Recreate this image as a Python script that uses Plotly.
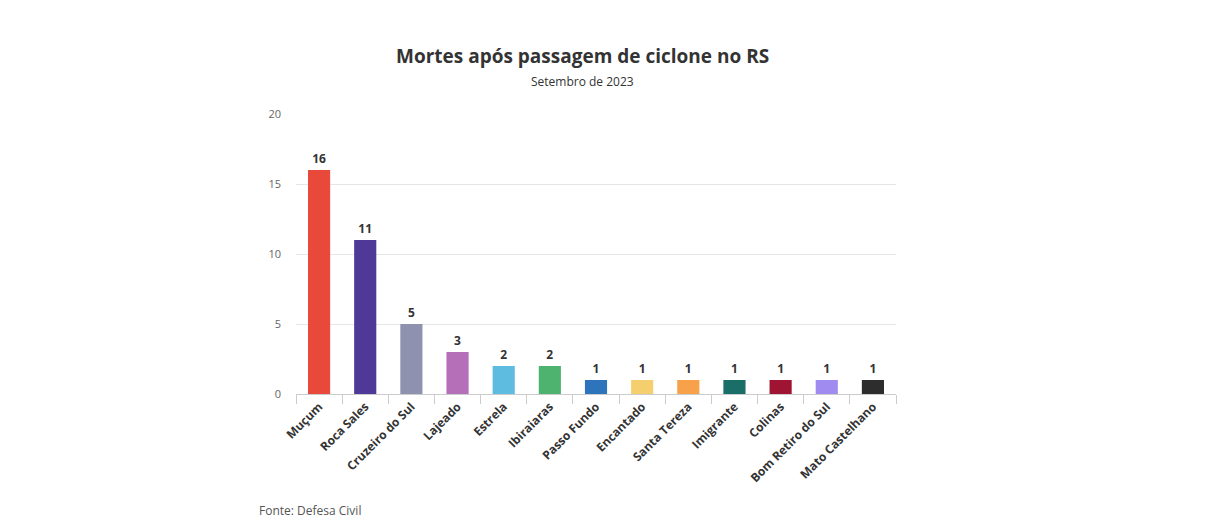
import plotly.graph_objects as go

cidades = ["Muçum", "Roca Sales", "Cruzeiro do Sul", "Lajeado", "Estrela", "Ibiraiaras",
           "Passo Fundo", "Encantado", "Santa Tereza", "Imigrante", "Colinas",
           "Bom Retiro do Sul", "Mato Castelhano"]
mortes = [16, 11, 5, 3, 2, 2, 1, 1, 1, 1, 1, 1, 1]
cores = ["#E8493B", "#4E3A96", "#8F92AE", "#B56FB9", "#5DBCE0", "#4DB36E", "#2E74BC",
         "#F5CF6E", "#F7A24B", "#1A6E68", "#9E1432", "#A08CF0", "#2D2D2D"]
y_ticks = [0, 5, 10, 15, 20]

fig = go.Figure(go.Bar(
    x=cidades, y=mortes, marker=dict(color=cores, line=dict(width=0)),
    text=[str(v) for v in mortes], textposition="outside",
    textfont=dict(family="Open Sans", size=12, color="#333333", weight="bold"),
    cliponaxis=False,
))

W, H = 1224, 528
pl, pr, pt, pb = 296, 328, 114, 134
pw, ph = W - pl - pr, H - pt - pb

def px2paper(x, y):
    return (x - pl) / pw, (H - pb - y) / ph

anns = []
for txt, x, y, size, color, anchor in [
    ("<b>Mortes após passagem de ciclone no RS</b>", 582, 56, 19, "#333333", "center"),
    ("Setembro de 2023", 582, 82, 12, "#333333", "center"),
    ("Fonte: Defesa Civil", 257, 510, 12, "#555555", "left"),
]:
    ax, ay = px2paper(x, y)
    anns.append(dict(text=txt, x=ax, y=ay, xref="paper", yref="paper", showarrow=False,
                     xanchor=anchor, yanchor="middle",
                     font=dict(size=size, color=color, family="Open Sans")))

fig.update_layout(
    width=W, height=H,
    margin=dict(l=pl, r=pr, t=pt, b=pb),
    paper_bgcolor="white", plot_bgcolor="white",
    bargap=0.52, showlegend=False,
    font=dict(family="Open Sans", color="#333333"),
    annotations=anns,
)

fig.update_xaxes(
    showgrid=False, showline=True, linecolor="#CCCCCC", linewidth=1,
    ticks="outside", tickson="boundaries", ticklen=9, tickcolor="#CCCCCC",
    tickangle=-45,
    tickfont=dict(family="Open Sans", size=12, color="#333333", weight="bold"),
)
fig.update_yaxes(
    range=[0, 20], tickvals=y_ticks, showgrid=True, gridcolor="#E6E6E6",
    zeroline=False, showline=False, ticks="", ticklabelstandoff=14,
    tickfont=dict(family="Open Sans", size=11, color="#666666"),
)

fig.write_html("out.html")
